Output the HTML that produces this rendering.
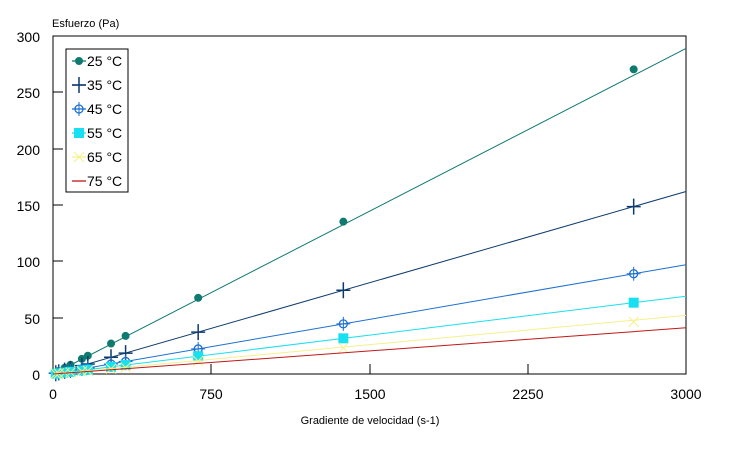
<!DOCTYPE html>
<html><head><meta charset="utf-8"><style>
html,body{margin:0;padding:0;background:#fff;}
svg{display:block;font-family:"Liberation Sans",sans-serif;}
</style></head><body>
<svg id="s" width="735" height="452" viewBox="0 0 735 452" xmlns="http://www.w3.org/2000/svg">
<rect x="0" y="0" width="735" height="452" fill="#fff"/>
<rect x="53" y="36" width="633" height="338" fill="none" stroke="#000" stroke-width="1"/>
<g font-size="14" fill="#000" text-anchor="end">
<text x="40" y="42">300</text><text x="40" y="98">250</text><text x="40" y="155">200</text>
<text x="40" y="211">150</text><text x="40" y="267">100</text><text x="40" y="324">50</text><text x="40" y="380">0</text>
</g>
<g font-size="14" text-anchor="middle">
<text x="53" y="399">0</text><text x="211" y="399">750</text><text x="370" y="399">1500</text>
<text x="528" y="399">2250</text><text x="686" y="399">3000</text>
</g>
<text x="52" y="27" font-size="11">Esfuerzo (Pa)</text>
<text x="370" y="424" font-size="11" text-anchor="middle">Gradiente de velocidad (s-1)</text>
<g stroke="#000" stroke-width="1">
<line x1="53" y1="92" x2="63" y2="92"/><line x1="53" y1="149" x2="63" y2="149"/><line x1="53" y1="205" x2="63" y2="205"/>
<line x1="53" y1="261" x2="63" y2="261"/><line x1="53" y1="318" x2="63" y2="318"/>
<line x1="211" y1="374" x2="211" y2="364"/><line x1="370" y1="374" x2="370" y2="364"/><line x1="528" y1="374" x2="528" y2="364"/>
</g>
<g id="g"></g>
<rect x="66" y="49" width="62" height="143" fill="#fff" stroke="#000"/>
<g id="leg" font-size="14"></g>
</svg>
<script>
var NS="http://www.w3.org/2000/svg",g=document.getElementById('g'),leg=document.getElementById('leg');
function X(v){return 53+v*633/3000}function Y(v){return 374-v*338/300}
function el(p,t,a){var e=document.createElementNS(NS,t);for(var k in a)e.setAttribute(k,a[k]);p.appendChild(e);return e}
var xs=[13,27,55,83,137,165,275,344,688,1376,2752];
var S=[{c:'#0f7a70',end:289,m:'dot',n:'25 °C'},{c:'#0d3a6e',end:162,m:'plus',n:'35 °C'},{c:'#1c6fd0',end:97,m:'star',n:'45 °C'},
{c:'#18e0f0',end:69,m:'sq',n:'55 °C'},{c:'#f5f08a',end:52,m:'x',n:'65 °C'},{c:'#c01818',end:41,m:'none',n:'75 °C'}];
function mark(p,t,x,y,c){
if(t=='dot')el(p,'circle',{cx:x,cy:y,r:4,fill:c});
else if(t=='plus'){el(p,'path',{d:'M'+(x-7)+' '+y+'h14M'+x+' '+(y-8)+'v16',stroke:c,'stroke-width':1.5,fill:'none'});}
else if(t=='star'){el(p,'circle',{cx:x,cy:y,r:4,fill:'none',stroke:c,'stroke-width':1.3});el(p,'path',{d:'M'+(x-7)+' '+y+'h14M'+x+' '+(y-7)+'v14',stroke:c,'stroke-width':1,fill:'none'});}
else if(t=='sq')el(p,'rect',{x:x-5,y:y-5,width:10,height:10,fill:c});
else if(t=='x')el(p,'path',{d:'M'+(x-5)+' '+(y-5)+'l10 10M'+(x+5)+' '+(y-5)+'l-10 10',stroke:c,'stroke-width':1,fill:'none'});
}
S.forEach(function(s,i){
 var k=s.end/3000;
 el(g,'line',{x1:X(0),y1:Y(0),x2:X(3000),y2:Y(s.end),stroke:s.c,'stroke-width':1});
 var f=[1.02,1.0,1.0,1.0,0.97,1][i];
 xs.forEach(function(x){mark(g,s.m,X(x),Y(k*x*f),s.c)});
 var ly=61+i*24;
 el(leg,'line',{x1:72,y1:ly,x2:86,y2:ly,stroke:s.c,'stroke-width':1.3});
 mark(leg,s.m,79,ly,s.c);
 var t=el(leg,'text',{x:87,y:ly+5});t.textContent=s.n;
});
</script>
</body></html>
